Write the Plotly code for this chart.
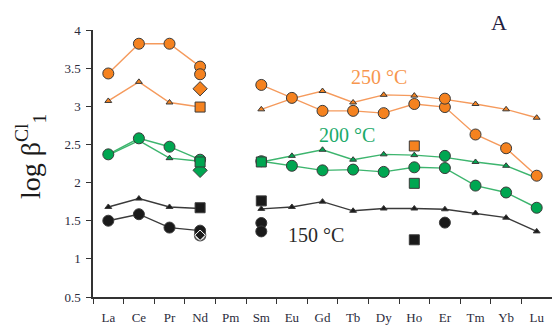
import plotly.graph_objects as go

# Rare earth elements along the x axis
ree = ["La", "Ce", "Pr", "Nd", "Pm", "Sm", "Eu", "Gd", "Tb", "Dy", "Ho", "Er", "Tm", "Yb", "Lu"]

# 250 °C
c250_circ = [3.43, 3.82, 3.82, 3.52, None, 3.28, 3.11, 2.94, 2.94, 2.91, 3.03, 2.99, 2.63, 2.45, 2.09]
c250_tri = [3.07, 3.32, 3.05, 2.99, None, 2.96, 3.10, 3.20, 3.05, 3.15, 3.14, 3.09, 3.03, 2.96, 2.85]
c250_circ_x = ["Nd", "Er"]
c250_circ_y = [3.42, 3.10]
c250_dia_x = ["Nd"]
c250_dia_y = [3.23]
c250_sq_x = ["Nd", "Ho"]
c250_sq_y = [2.99, 2.48]

# 200 °C
c200_circ = [2.37, 2.58, 2.47, 2.30, None, 2.28, 2.22, 2.16, 2.17, 2.14, 2.20, 2.19, 1.96, 1.87, 1.67]
c200_tri = [2.36, 2.55, 2.32, 2.28, None, 2.27, 2.35, 2.43, 2.30, 2.37, 2.36, 2.33, 2.27, 2.22, 2.06]
c200_circ_x = ["Er"]
c200_circ_y = [2.35]
c200_dia_x = ["Nd"]
c200_dia_y = [2.16]
c200_sq_x = ["Nd", "Sm", "Ho"]
c200_sq_y = [2.27, 2.27, 1.99]

# 150 °C
c150_circ = [1.50, 1.585, 1.41, 1.37, None, None, None, None, None, None, None, None, None, None, None]
c150_tri = [1.68, 1.79, 1.68, 1.66, None, 1.655, 1.68, 1.75, 1.63, 1.66, 1.66, 1.65, 1.60, 1.54, 1.36]
c150_circ_x = ["Sm", "Sm", "Er"]
c150_circ_y = [1.47, 1.36, 1.475]
c150_open_x = ["Nd"]
c150_open_y = [1.31]
c150_dia_x = ["Nd"]
c150_dia_y = [1.31]
c150_sq_x = ["Nd", "Sm", "Ho"]
c150_sq_y = [1.67, 1.76, 1.25]

ORANGE_FILL = "#F5821F"
ORANGE_LINE = "#F59A5C"
GREEN_FILL = "#00A651"
GREEN_LINE = "#3DB56E"
BLACK_FILL = "#1a1a1a"
BLACK_LINE = "#3a3a3a"
EDGE = "#3a3a3a"

fig = go.Figure()


def line_series(y, fill, line, symbol, size):
    fig.add_trace(go.Scatter(
        x=ree, y=y, mode="lines+markers", connectgaps=False,
        line=dict(color=line, width=1.4),
        marker=dict(symbol=symbol, size=size, color=fill, line=dict(color=EDGE, width=1)),
        showlegend=False, hoverinfo="skip"))


def point_series(x, y, fill, symbol, size, edge=EDGE, ew=1):
    fig.add_trace(go.Scatter(
        x=x, y=y, mode="markers",
        marker=dict(symbol=symbol, size=size, color=fill, line=dict(color=edge, width=ew)),
        showlegend=False, hoverinfo="skip"))


# triangles first, circles above
line_series(c250_tri, ORANGE_FILL, ORANGE_LINE, "triangle-up", 6)
line_series(c200_tri, GREEN_FILL, GREEN_LINE, "triangle-up", 6)
line_series(c150_tri, BLACK_FILL, BLACK_LINE, "triangle-up", 6)

point_series(c150_open_x, c150_open_y, "white", "circle", 11, edge="#555555", ew=1.5)

line_series(c250_circ, ORANGE_FILL, ORANGE_LINE, "circle", 11)
line_series(c200_circ, GREEN_FILL, GREEN_LINE, "circle", 11)
line_series(c150_circ, BLACK_FILL, BLACK_LINE, "circle", 11)

point_series(c250_circ_x, c250_circ_y, ORANGE_FILL, "circle", 11)
point_series(c200_circ_x, c200_circ_y, GREEN_FILL, "circle", 11)
point_series(c150_circ_x, c150_circ_y, BLACK_FILL, "circle", 11)

point_series(c250_dia_x, c250_dia_y, ORANGE_FILL, "diamond", 11)
point_series(c200_dia_x, c200_dia_y, GREEN_FILL, "diamond", 11)
point_series(c150_dia_x, c150_dia_y, BLACK_FILL, "diamond", 8, edge="white", ew=1)

point_series(c250_sq_x, c250_sq_y, ORANGE_FILL, "square", 10)
point_series(c200_sq_x, c200_sq_y, GREEN_FILL, "square", 10)
point_series(c150_sq_x, c150_sq_y, BLACK_FILL, "square", 10)

SERIF = "Liberation Serif, Times New Roman, serif"
TICK_COLOR = "#2b2b3b"

fig.update_layout(
    width=552, height=328,
    margin=dict(l=93, r=0, t=30, b=31),
    paper_bgcolor="white", plot_bgcolor="white",
    font=dict(family=SERIF, size=13, color=TICK_COLOR),
    xaxis=dict(
        type="category", categoryorder="array", categoryarray=ree,
        range=[-0.5, 14.5], showgrid=False, zeroline=False,
        showline=True, linecolor="#333333", linewidth=1.5,
        ticks="outside", tickson="boundaries", ticklen=5, tickwidth=1.2, tickcolor="#333333",
        ticklabelstandoff=8,
        tickfont=dict(family=SERIF, size=13, color=TICK_COLOR),
    ),
    yaxis=dict(
        range=[0.5, 4.0], dtick=0.5, tick0=0.5, showgrid=False, zeroline=False,
        showline=True, linecolor="#333333", linewidth=1.5,
        ticks="outside", ticklen=5, tickwidth=1.2, tickcolor="#333333",
        ticklabelstandoff=3,
        tickfont=dict(family=SERIF, size=13, color=TICK_COLOR),
    ),
)

W, H = 459.0, 267.0


def px(xp, yp):
    return (xp - 93) / W, (297 - yp) / H


annots = [
    ("250 °C", 379, 77, 20, "#F7964E", 0),
    ("200 °C", 347, 135, 20, "#1AAA6A", 0),
    ("150 °C", 316, 235, 20, "#2a2a2a", 0),
    ("A", 499, 23, 22, "#1f2040", 0),
    ("log β<sup>Cl</sup><sub>1</sub>", 30, 156, 28, "#1a1a1a", -90),
]
for text, xp, yp, size, color, ang in annots:
    ax, ay = px(xp, yp)
    fig.add_annotation(
        text=text, x=ax, y=ay, xref="paper", yref="paper",
        xanchor="center", yanchor="middle", showarrow=False, textangle=ang,
        font=dict(family=SERIF, size=size, color=color))

fig.write_html("out.html")
